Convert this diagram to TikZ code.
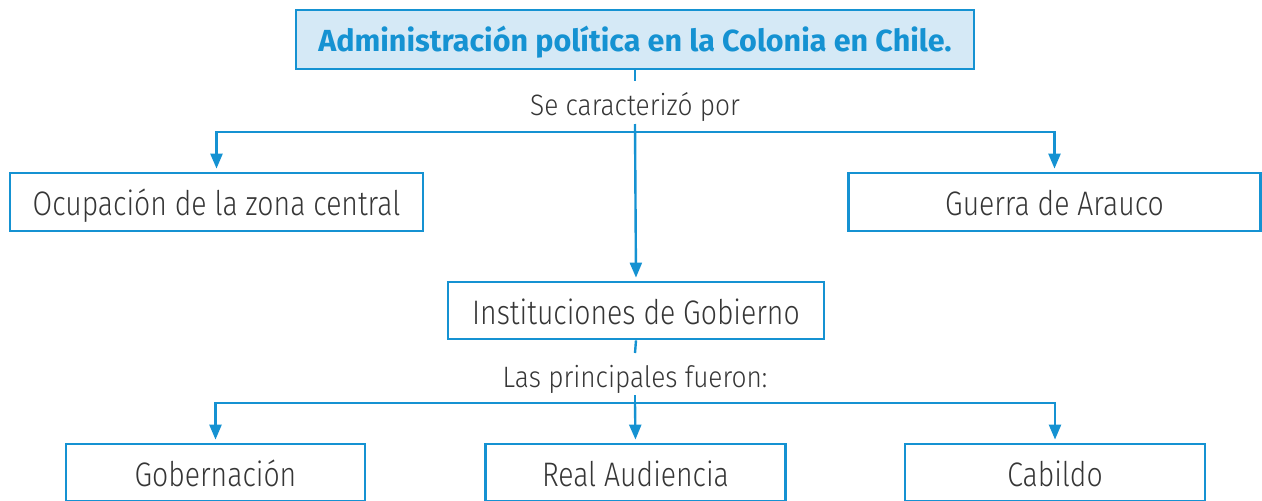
\documentclass[tikz,border=0pt]{standalone}
\usepackage{fontspec}
\setmainfont{Fira Sans Light}[FakeStretch=0.835]
\newfontfamily\labfont{Fira Sans Light}[FakeStretch=0.89]
\newfontfamily\titlefont{Fira Sans}
\usetikzlibrary{arrows.meta}
\definecolor{cblue}{HTML}{1592D2}
\definecolor{cfill}{HTML}{D5E9F6}
\definecolor{ctext}{HTML}{363636}
\begin{document}
\begin{tikzpicture}[x=1pt,y=-1pt,
  box/.style={draw=cblue,line width=2.8pt,inner sep=0pt,text=ctext,
    text height=27.2pt,text depth=0pt,font=\fontsize{34}{38}\selectfont},
  lab/.style={inner sep=0pt,text=ctext,text height=24pt,text depth=0pt,
    font=\labfont\fontsize{29.5}{34}\selectfont},
  conn/.style={draw=cblue,line width=2.4pt},
  arr/.style={conn,-{Triangle[length=15pt,width=12pt]},shorten >=3pt}]
\useasboundingbox (0,0) rectangle (1262,501);
% boxes
\node[box,fill=cfill,minimum width=678pt,minimum height=59pt,text=cblue,text height=24.4pt,
      font=\titlefont\bfseries\fontsize{30.5}{34}\selectfont] (top) at (635,39.5) {Administración política en la Colonia en Chile.};
\node[box,minimum width=413pt,minimum height=58pt] (left) at (216.5,202) {Ocupación de la zona central};
\node[box,minimum width=412pt,minimum height=58pt] (right) at (1054.5,202) {Guerra de Arauco};
\node[box,minimum width=376pt,minimum height=57pt] (mid) at (636,310.5) {Instituciones de Gobierno};
\node[box,minimum width=299pt,minimum height=57pt] (b1) at (215.5,472.5) {Gobernación};
\node[box,minimum width=300pt,minimum height=57pt] (b2) at (635.5,472.5) {Real Audiencia};
\node[box,minimum width=300pt,minimum height=57pt] (b3) at (1055,472.5) {Cabildo};
% labels
\node[lab] (lab1) at (635,103) {Se caracterizó por};
\node[lab] (lab2) at (635,375) {Las principales fueron:};
% junction coordinates
\coordinate (s1a) at (635,81);
\coordinate (s1b) at (635,124);
\coordinate (j1) at (635,132);
\coordinate (s2a) at (635,353);
\coordinate (s2b) at (635,395);
\coordinate (j2) at (635,403);
% connectors
\draw[conn] (top.south) -- (s1a);
\draw[arr] (s1b) -- (mid.north);
\draw[arr] (j1) -| (left.north);
\draw[arr] (j1) -| (right.north);
\draw[conn] (mid.south) -- (s2a);
\draw[conn] (s2b) -- (j2);
\draw[arr] (j2) -| (b1.north);
\draw[arr] (j2) -- (b2.north);
\draw[arr] (j2) -| (b3.north);
\end{tikzpicture}
\end{document}
